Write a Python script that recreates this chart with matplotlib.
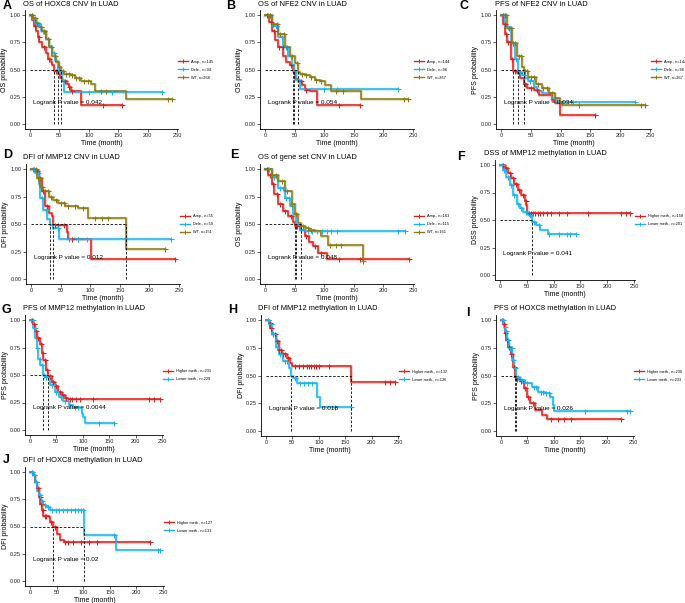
import numpy as np
import matplotlib
matplotlib.use("Agg")
import matplotlib.pyplot as plt
from matplotlib.lines import Line2D

plt.rcParams["font.family"] = ["Liberation Sans", "DejaVu Sans"]

W, H = 685, 603
RED, BLUE, OLIVE = "#E0201F", "#1DB2EE", "#8C7A12"

# ---- survival step data (time in months, survival prob), censor times ----
# A: OS of HOXC8 CNV
a_amp_t = [0, 4, 7, 10, 13, 16, 21, 27, 31, 35, 38, 41, 48, 51, 55, 63, 66, 69, 86, 157]
a_amp_s = [1.0, 0.95, 0.9, 0.85, 0.8, 0.75, 0.71, 0.65, 0.6, 0.57, 0.54, 0.49, 0.46, 0.42, 0.39, 0.37, 0.34, 0.3, 0.17, 0.17]
a_amp_c = [3, 9, 15, 24, 33, 45, 60, 67, 72, 124, 157]
a_del_t = [0, 5, 10, 18, 27, 32, 38, 43, 47, 54, 58, 225]
a_del_s = [1.0, 0.96, 0.92, 0.85, 0.78, 0.72, 0.65, 0.58, 0.48, 0.4, 0.29, 0.29]
a_del_c = [6, 14, 22, 30, 40, 100, 140, 224]
a_wt_t = [0, 5, 10, 16, 21, 27, 33, 38, 44, 49, 53, 58, 69, 77, 86, 103, 111, 164, 242]
a_wt_s = [1.0, 0.97, 0.93, 0.89, 0.85, 0.78, 0.71, 0.62, 0.57, 0.52, 0.49, 0.46, 0.45, 0.42, 0.39, 0.37, 0.3, 0.23, 0.23]
a_wt_c = [4, 8, 12, 18, 24, 30, 36, 42, 50, 56, 62, 66, 72, 78, 84, 92, 98, 120, 130, 235, 242]

# B: OS of NFE2 CNV
b_amp_t = [0, 6, 11, 17, 22, 31, 36, 42, 48, 51, 56, 62, 67, 76, 87, 160]
b_amp_s = [1.0, 0.94, 0.85, 0.77, 0.71, 0.62, 0.57, 0.54, 0.49, 0.41, 0.39, 0.36, 0.31, 0.3, 0.17, 0.17]
b_amp_c = [4, 10, 16, 24, 30, 44, 60, 70, 125, 160]
b_del_t = [0, 11, 22, 31, 39, 45, 49, 53, 59, 225]
b_del_s = [1.0, 0.9, 0.8, 0.71, 0.62, 0.54, 0.49, 0.4, 0.32, 0.32]
b_del_c = [8, 18, 28, 36, 44, 100, 122, 224]
b_wt_t = [0, 11, 22, 34, 42, 51, 55, 59, 67, 76, 84, 93, 101, 112, 163, 242]
b_wt_s = [1.0, 0.92, 0.83, 0.71, 0.62, 0.56, 0.48, 0.46, 0.45, 0.43, 0.4, 0.39, 0.36, 0.3, 0.23, 0.23]
b_wt_c = [5, 9, 14, 20, 26, 32, 38, 46, 54, 62, 70, 78, 86, 95, 120, 132, 235, 242]

# C: PFS of NFE2 CNV
c_amp_t = [0, 4, 7, 10, 16, 20, 27, 32, 38, 44, 55, 63, 85, 90, 99, 158]
c_amp_s = [1.0, 0.92, 0.83, 0.75, 0.6, 0.49, 0.47, 0.42, 0.37, 0.33, 0.31, 0.27, 0.22, 0.19, 0.08, 0.08]
c_amp_c = [3, 6, 9, 12, 18, 24, 30, 40, 50, 60, 158]
c_del_t = [0, 7, 16, 23, 28, 35, 41, 46, 55, 60, 69, 85, 94, 225]
c_del_s = [1.0, 0.89, 0.74, 0.6, 0.48, 0.45, 0.42, 0.39, 0.34, 0.3, 0.28, 0.24, 0.2, 0.2]
c_del_c = [5, 12, 20, 26, 32, 38, 48, 120, 225]
c_wt_t = [0, 10, 18, 27, 35, 38, 46, 58, 69, 80, 91, 99, 102, 242]
c_wt_s = [1.0, 0.88, 0.74, 0.62, 0.52, 0.49, 0.43, 0.37, 0.33, 0.28, 0.24, 0.2, 0.17, 0.17]
c_wt_c = [3, 6, 9, 13, 16, 20, 24, 30, 34, 40, 44, 50, 56, 62, 70, 78, 86, 131, 235, 242]

# D: DFI of MMP12 CNV
d_amp_t = [0, 7, 13, 18, 24, 30, 35, 38, 60, 63, 101, 243]
d_amp_s = [1.0, 0.98, 0.92, 0.8, 0.66, 0.6, 0.57, 0.49, 0.43, 0.36, 0.18, 0.18]
d_amp_c = [10, 20, 27, 40, 45, 56, 70, 80, 243]
d_del_t = [0, 7, 13, 16, 21, 27, 32, 38, 48, 237]
d_del_s = [1.0, 0.96, 0.86, 0.74, 0.63, 0.55, 0.49, 0.46, 0.36, 0.36]
d_del_c = [5, 12, 18, 25, 35, 45, 65, 80, 95, 237]
d_wt_t = [0, 10, 16, 21, 30, 38, 46, 58, 80, 97, 160, 226]
d_wt_s = [1.0, 0.92, 0.84, 0.8, 0.75, 0.72, 0.69, 0.66, 0.645, 0.555, 0.27, 0.27]
d_wt_c = [4, 8, 12, 15, 19, 24, 28, 34, 42, 50, 56, 62, 75, 88, 108, 120, 130, 226]

# E: OS of gene set CNV
e_amp_t = [0, 5, 11, 16, 22, 30, 39, 47, 51, 59, 67, 75, 81, 90, 104, 244]
e_amp_s = [1.0, 0.95, 0.86, 0.77, 0.68, 0.62, 0.57, 0.52, 0.48, 0.45, 0.39, 0.34, 0.3, 0.24, 0.18, 0.18]
e_amp_c = [4, 8, 14, 20, 26, 34, 44, 54, 70, 85, 95, 125, 160, 244]
e_del_t = [0, 11, 22, 33, 42, 47, 53, 59, 67, 236]
e_del_s = [1.0, 0.93, 0.83, 0.74, 0.66, 0.59, 0.49, 0.45, 0.435, 0.435]
e_del_c = [6, 15, 25, 30, 36, 40, 45, 60, 72, 80, 88, 96, 104, 112, 122, 225, 236]
e_wt_t = [0, 11, 22, 33, 45, 50, 56, 60, 67, 75, 84, 95, 106, 166]
e_wt_s = [1.0, 0.945, 0.89, 0.8, 0.68, 0.59, 0.51, 0.48, 0.46, 0.45, 0.435, 0.39, 0.31, 0.16]
e_wt_c = [5, 12, 18, 28, 38, 46, 52, 64, 72, 78, 110, 120, 128, 166]

# F: DSS of MMP12 methylation
f_hi_t = [0, 9, 15, 21, 27, 34, 40, 46, 49, 51, 242]
f_hi_s = [1.0, 0.97, 0.925, 0.88, 0.83, 0.77, 0.73, 0.67, 0.64, 0.56, 0.56]
f_hi_c = [5, 12, 18, 24, 30, 36, 42, 48, 55, 58, 62, 66, 70, 75, 80, 88, 95, 110, 125, 165, 225, 235, 242]
f_lo_t = [0, 6, 12, 18, 24, 31, 37, 43, 52, 60, 68, 74, 90, 142]
f_lo_s = [1.0, 0.955, 0.89, 0.82, 0.73, 0.65, 0.61, 0.575, 0.545, 0.485, 0.455, 0.41, 0.37, 0.37]
f_lo_c = [3, 8, 14, 20, 26, 33, 40, 48, 56, 64, 72, 92, 110, 125, 130, 142]

# G: PFS of MMP12 methylation
g_hi_t = [0, 6, 9, 13, 18, 22, 25, 31, 35, 41, 47, 53, 60, 66, 72, 246]
g_hi_s = [1.0, 0.96, 0.9, 0.84, 0.78, 0.7, 0.64, 0.55, 0.49, 0.44, 0.4, 0.35, 0.32, 0.29, 0.28, 0.28]
g_hi_c = [3, 8, 12, 16, 20, 24, 28, 33, 38, 44, 50, 56, 62, 68, 75, 80, 88, 95, 120, 225, 235, 246]
g_lo_t = [0, 6, 10, 13, 16, 19, 24, 28, 38, 47, 54, 63, 73, 82, 95, 98, 101, 104, 160]
g_lo_s = [1.0, 0.93, 0.84, 0.75, 0.65, 0.59, 0.5, 0.48, 0.41, 0.35, 0.3, 0.26, 0.23, 0.21, 0.2, 0.15, 0.12, 0.06, 0.06]
g_lo_c = [2, 5, 9, 14, 18, 22, 26, 30, 35, 42, 50, 58, 66, 75, 85, 90, 130, 160]

# H: DFI of MMP12 methylation
h_hi_t = [0, 5, 8, 11, 18, 24, 30, 40, 46, 49, 161, 245]
h_hi_s = [1.0, 0.97, 0.93, 0.87, 0.81, 0.73, 0.69, 0.66, 0.61, 0.59, 0.445, 0.445]
h_hi_c = [3, 7, 10, 14, 17, 20, 25, 28, 33, 36, 42, 55, 62, 70, 78, 82, 86, 90, 95, 100, 120, 225, 235, 245]
h_lo_t = [0, 5, 11, 18, 24, 33, 43, 48, 51, 59, 96, 102, 161]
h_lo_s = [1.0, 0.96, 0.87, 0.76, 0.69, 0.63, 0.57, 0.5, 0.48, 0.43, 0.31, 0.22, 0.22]
h_lo_c = [4, 9, 14, 20, 27, 36, 40, 55, 65, 72, 80, 88, 130, 161]

# I: PFS of HOXC8 methylation
i_hi_t = [0, 3, 7, 9, 13, 18, 22, 26, 30, 36, 43, 49, 55, 65, 77, 87, 228]
i_hi_s = [1.0, 0.96, 0.88, 0.82, 0.76, 0.69, 0.58, 0.49, 0.47, 0.45, 0.39, 0.31, 0.25, 0.19, 0.145, 0.11, 0.11]
i_hi_c = [2, 5, 8, 11, 15, 19, 24, 27, 31, 38, 45, 52, 60, 95, 108, 120, 132, 228]
i_lo_t = [0, 5, 8, 11, 16, 21, 25, 29, 36, 46, 58, 71, 84, 93, 99, 101, 244]
i_lo_s = [1.0, 0.94, 0.9, 0.82, 0.75, 0.64, 0.57, 0.49, 0.46, 0.43, 0.4, 0.355, 0.34, 0.31, 0.235, 0.18, 0.18]
i_lo_c = [2, 4, 7, 10, 13, 17, 20, 23, 26, 32, 40, 50, 62, 66, 75, 80, 85, 90, 160, 238, 244]

# J: DFI of HOXC8 methylation
j_hi_t = [0, 6, 9, 13, 16, 19, 22, 25, 35, 38, 43, 50, 57, 63, 226]
j_hi_s = [1.0, 0.97, 0.91, 0.85, 0.77, 0.71, 0.65, 0.6, 0.59, 0.54, 0.497, 0.43, 0.375, 0.354, 0.354]
j_hi_c = [3, 8, 11, 15, 18, 21, 24, 28, 31, 40, 47, 66, 72, 80, 95, 110, 125, 226]
j_lo_t = [0, 6, 9, 13, 16, 20, 25, 31, 38, 102, 161, 245]
j_lo_s = [1.0, 0.97, 0.91, 0.83, 0.79, 0.73, 0.7, 0.68, 0.65, 0.42, 0.284, 0.284]
j_lo_c = [4, 8, 12, 18, 23, 28, 33, 42, 48, 55, 62, 70, 78, 85, 90, 95, 100, 158, 240, 245]

# ---- panel text ----
letters = ["A", "B", "C", "D", "E", "F", "G", "H", "I", "J"]
titles = [
    "OS of HOXC8 CNV in LUAD", "OS of NFE2 CNV in LUAD", "PFS of NFE2 CNV in LUAD",
    "DFI of MMP12 CNV in LUAD", "OS of gene set CNV in LUAD", "DSS of MMP12 methylation in LUAD",
    "PFS of MMP12 methylation in LUAD", "DFI of MMP12 methylation in LUAD",
    "PFS of HOXC8 methylation in LUAD", "DFI of HOXC8 methylation in LUAD",
]
ylabels = ["OS", "OS", "PFS", "DFI", "OS", "DSS", "PFS", "DFI", "PFS", "DFI"]
pvalues = ["0.042", "0.054", "0.034", "0.012", "0.048", "0.041", "0.0044", "0.018", "0.026", "0.02"]
legend_labels = [
    ["Amp., n=145", "Dele., n=94", "WT, n=268"],
    ["Amp., n=144", "Dele., n=96", "WT, n=267"],
    ["Amp., n=144", "Dele., n=96", "WT, n=267"],
    ["Amp., n=55", "Dele., n=59", "WT, n=151"],
    ["Amp., n=163", "Dele., n=115", "WT, n=161"],
    ["Higher meth., n=158", "Lower meth., n=201"],
    ["Higher meth., n=231", "Lower meth., n=229"],
    ["Higher meth., n=132", "Lower meth., n=126"],
    ["Higher meth., n=230", "Lower meth., n=233"],
    ["Higher meth., n=127", "Lower meth., n=131"],
]

curves = [
    [(a_amp_t, a_amp_s, a_amp_c), (a_del_t, a_del_s, a_del_c), (a_wt_t, a_wt_s, a_wt_c)],
    [(b_amp_t, b_amp_s, b_amp_c), (b_del_t, b_del_s, b_del_c), (b_wt_t, b_wt_s, b_wt_c)],
    [(c_amp_t, c_amp_s, c_amp_c), (c_del_t, c_del_s, c_del_c), (c_wt_t, c_wt_s, c_wt_c)],
    [(d_amp_t, d_amp_s, d_amp_c), (d_del_t, d_del_s, d_del_c), (d_wt_t, d_wt_s, d_wt_c)],
    [(e_amp_t, e_amp_s, e_amp_c), (e_del_t, e_del_s, e_del_c), (e_wt_t, e_wt_s, e_wt_c)],
    [(f_hi_t, f_hi_s, f_hi_c), (f_lo_t, f_lo_s, f_lo_c)],
    [(g_hi_t, g_hi_s, g_hi_c), (g_lo_t, g_lo_s, g_lo_c)],
    [(h_hi_t, h_hi_s, h_hi_c), (h_lo_t, h_lo_s, h_lo_c)],
    [(i_hi_t, i_hi_s, i_hi_c), (i_lo_t, i_lo_s, i_lo_c)],
    [(j_hi_t, j_hi_s, j_hi_c), (j_lo_t, j_lo_s, j_lo_c)],
]

# layout in pixels: x of t=0, x of t=250, y of s=1, y of s=0, letter (x, y), title (x, y)
layout = [
    (30, 177, 15, 124, 3, 6, 23, 4),
    (265, 413, 15, 124, 226, 6, 258, 4),
    (501, 650, 15, 124, 460, 6, 495, 4),
    (31, 179, 169, 279, 3, 155, 23, 158),
    (265, 413, 169, 279, 230, 155, 258, 158),
    (500, 634, 165, 275, 457, 157, 484, 154),
    (30, 162, 320, 430, 2, 310, 23, 308),
    (266, 398, 320, 431, 228, 310, 258, 309),
    (501, 633, 320, 431, 466, 313, 494, 309),
    (30, 163, 472, 581, 3, 460, 23, 460),
]

XMIN, XMAX = -9, 252
YMIN, YMAX = -0.045, 1.045


def surv_at(t, s, x):
    idx = np.searchsorted(t, x, side="right") - 1
    return np.asarray(s)[np.clip(idx, 0, len(s) - 1)]


def median_time(t, s):
    for ti, si in zip(t, s):
        if si <= 0.5:
            return ti
    return None


fig = plt.figure(figsize=(W / 100, H / 100), dpi=100)

for k in range(len(titles)):
    x0, x250, y1, y0, lx, ly, tx, ty = layout[k]
    sx = (x250 - x0) / 250.0
    sy = y0 - y1
    left = x0 + XMIN * sx
    width = (XMAX - XMIN) * sx
    top = y1 - (YMAX - 1) * sy
    height = (YMAX - YMIN) * sy
    ax = fig.add_axes([left / W, 1 - (top + height) / H, width / W, height / H])

    colors = [RED, BLUE, OLIVE] if len(curves[k]) == 3 else [RED, BLUE]
    meds = []
    handles = []
    for (t, s, c), col in zip(curves[k], colors):
        ax.step(t, s, where="post", color=col, lw=2.4, alpha=0.22, zorder=2)
        ax.step(t, s, where="post", color=col, lw=1.1, zorder=3)
        ax.plot(c, surv_at(t, s, c), "+", color=col, ms=3.6, mew=0.7, zorder=4)
        m = median_time(t, s)
        if m is not None:
            meds.append(m)
        handles.append(Line2D([0], [0], color=col, lw=1.0, marker="+", ms=3.2, mew=0.7))

    if meds:
        ax.plot([0, max(meds)], [0.5, 0.5], color="black", lw=0.6, ls=(0, (3, 2)), zorder=5)
        for m in meds:
            ax.plot([m, m], [0, 0.5], color="black", lw=0.6, ls=(0, (3, 2)), zorder=5)

    ax.text(5, 0.2, f"Logrank P value = {pvalues[k]}", fontsize=4.6, ha="left", va="center", zorder=6)

    ax.set_xlim(XMIN, XMAX)
    ax.set_ylim(YMIN, YMAX)
    ax.set_xticks([0, 50, 100, 150, 200, 250])
    ax.set_yticks([0, 0.25, 0.5, 0.75, 1.0])
    ax.set_yticklabels(["0.00", "0.25", "0.50", "0.75", "1.00"])
    ax.tick_params(labelsize=4.1, length=2, width=0.5, pad=1, colors="#222222")
    for side in ["top", "right"]:
        ax.spines[side].set_visible(False)
    for side in ["left", "bottom"]:
        ax.spines[side].set_linewidth(0.6)
    ax.set_xlabel("Time (month)", fontsize=5, labelpad=1.5)
    ax.set_ylabel(f"{ylabels[k]} probability", fontsize=5, labelpad=1)

    ax.legend(handles, legend_labels[k], loc="center left", bbox_to_anchor=(1.0, 0.5),
              frameon=False, fontsize=2.8, handlelength=2.6, handletextpad=0.6,
              labelspacing=1.0, borderaxespad=0, borderpad=0)

    fig.text(lx / W, 1 - ly / H, letters[k], fontsize=9, fontweight="bold", ha="left", va="center")
    fig.text(tx / W, 1 - ty / H, titles[k], fontsize=5.4, ha="left", va="center")

fig.savefig("out.png", dpi=100)
